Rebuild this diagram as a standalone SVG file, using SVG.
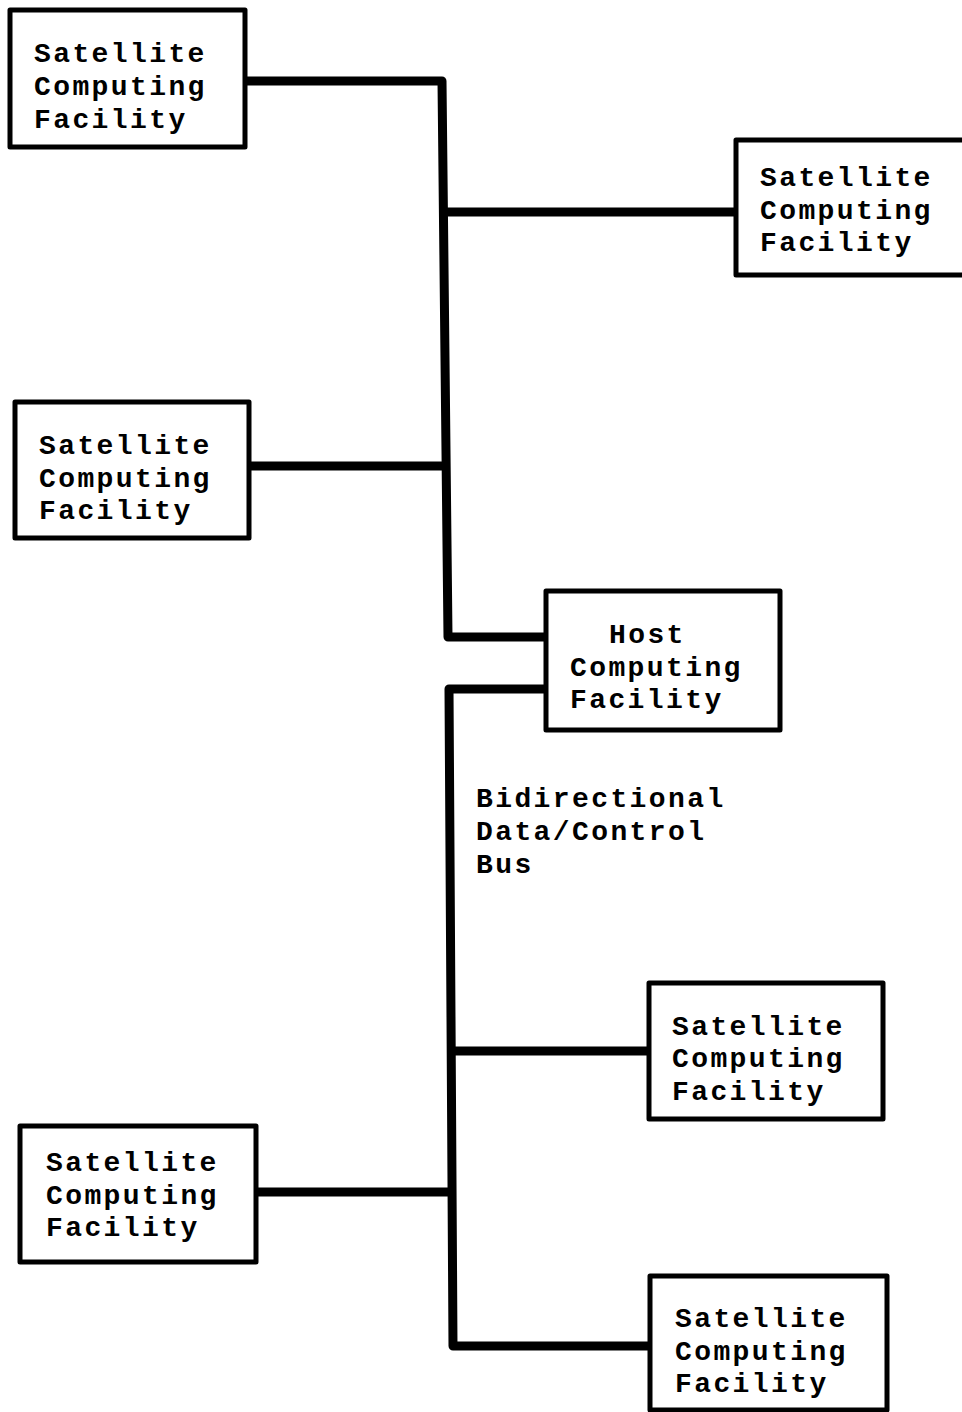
<svg xmlns="http://www.w3.org/2000/svg" width="962" height="1412" viewBox="0 0 962 1412">
  <style>
    .box { fill: #fff; stroke: #000; stroke-width: 5; stroke-linejoin: round; }
    .bus { fill: none; stroke: #000; stroke-width: 9; stroke-linejoin: round; stroke-linecap: butt; }
    text { font-family: "Liberation Mono", "Courier New", monospace; font-size: 28px; letter-spacing: 2.4px; font-weight: bold; fill: #000; }
  </style>
  <rect width="962" height="1412" fill="#fff"/>

  <!-- bus connectors -->
  <g id="connectors">
    <path class="bus" d="M245 81 H442 L448 637 H546"/>
    <path class="bus" d="M443 212 H736"/>
    <path class="bus" d="M249 466 H446"/>
    <path class="bus" d="M546 689 H449 L453 1346 H650"/>
    <path class="bus" d="M451 1051 H649"/>
    <path class="bus" d="M256 1192 H452"/>
  </g>

  <g id="sat1">
    <rect class="box" x="10" y="10" width="235" height="137"/>
    <text x="34" y="62">Satellite</text>
    <text x="34" y="95">Computing</text>
    <text x="34" y="128">Facility</text>
  </g>

  <g id="sat2">
    <rect class="box" x="736" y="140" width="240" height="135"/>
    <text x="760" y="186">Satellite</text>
    <text x="760" y="219">Computing</text>
    <text x="760" y="251">Facility</text>
  </g>

  <g id="sat3">
    <rect class="box" x="15" y="402" width="234" height="136"/>
    <text x="39" y="454">Satellite</text>
    <text x="39" y="487">Computing</text>
    <text x="39" y="519">Facility</text>
  </g>

  <g id="host">
    <rect class="box" x="546" y="591" width="234" height="139"/>
    <text x="609" y="643">Host</text>
    <text x="570" y="676">Computing</text>
    <text x="570" y="708">Facility</text>
  </g>

  <g id="bus-label">
    <text x="476" y="807">Bidirectional</text>
    <text x="476" y="840">Data/Control</text>
    <text x="476" y="873">Bus</text>
  </g>

  <g id="sat4">
    <rect class="box" x="649" y="983" width="234" height="136"/>
    <text x="672" y="1035">Satellite</text>
    <text x="672" y="1067">Computing</text>
    <text x="672" y="1100">Facility</text>
  </g>

  <g id="sat5">
    <rect class="box" x="20" y="1126" width="236" height="136"/>
    <text x="46" y="1171">Satellite</text>
    <text x="46" y="1204">Computing</text>
    <text x="46" y="1236">Facility</text>
  </g>

  <g id="sat6">
    <rect class="box" x="650" y="1276" width="237" height="134"/>
    <text x="675" y="1327">Satellite</text>
    <text x="675" y="1360">Computing</text>
    <text x="675" y="1392">Facility</text>
  </g>
</svg>
